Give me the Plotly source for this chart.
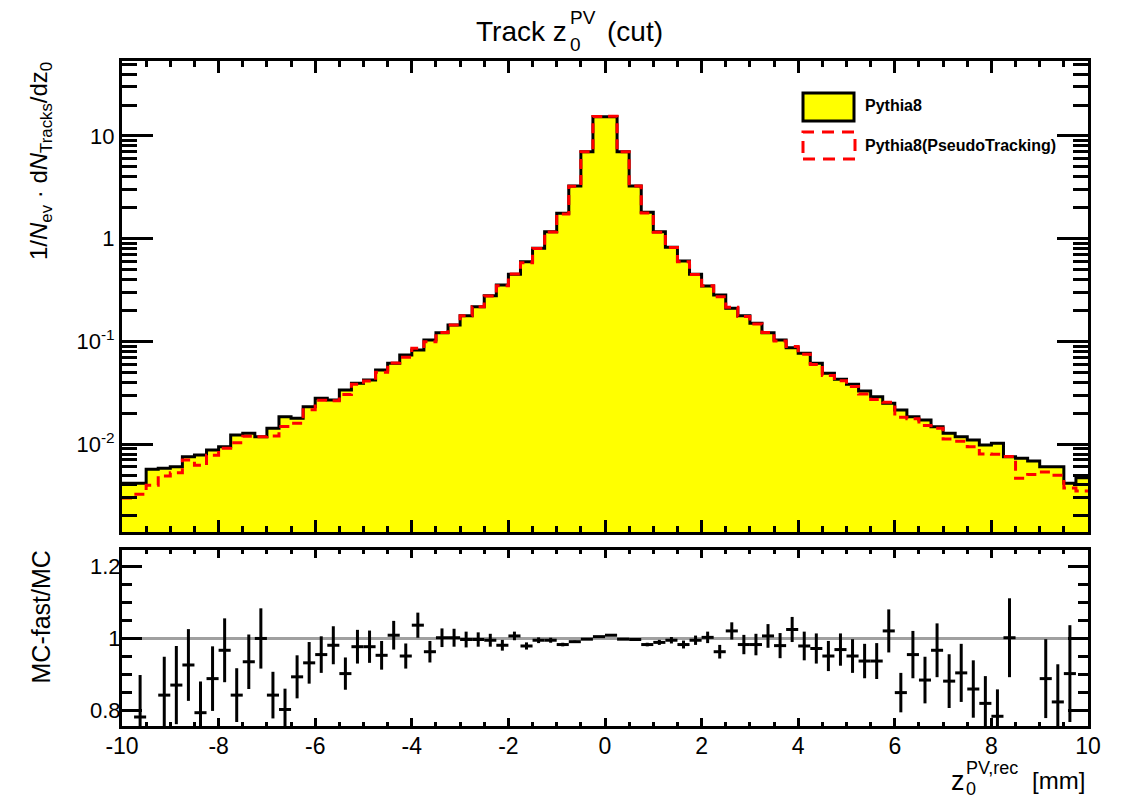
import numpy as np
import plotly.graph_objects as go

# ---- binning: 80 bins of 0.25 mm between -10 and 10 mm ----
Z_LO, Z_HI, N_BINS = -10.0, 10.0, 80

# 1/N_ev dN/dz0 for Pythia8 (full tracking), one value per bin
pythia8 = [
    0.00415, 0.00415, 0.00569, 0.00582, 0.00603, 0.00754, 0.00783, 0.00876,
    0.00943, 0.01226, 0.01274, 0.01181, 0.01425, 0.01848, 0.01783, 0.02313,
    0.02792, 0.02688, 0.03363, 0.03908, 0.04209, 0.05267, 0.06118, 0.07374,
    0.08249, 0.1032, 0.1215, 0.1444, 0.1779, 0.2177, 0.2786, 0.3540,
    0.4500, 0.5970, 0.8063, 1.170, 1.767, 3.261, 7.034, 15.41,
    15.41, 7.034, 3.261, 1.807, 1.170, 0.8249, 0.6066, 0.4500,
    0.3462, 0.2830, 0.2101, 0.1779, 0.1501, 0.1215, 0.1032, 0.08685,
    0.07660, 0.06118, 0.04891, 0.04276, 0.03822, 0.03289, 0.02893, 0.02496,
    0.02148, 0.01848, 0.01717, 0.01477, 0.01274, 0.01181, 0.01096, 0.00980,
    0.01018, 0.00754, 0.00727, 0.00685, 0.00603, 0.00603, 0.00415, 0.00471,
]

# MC-fast / MC ratio per bin and its statistical uncertainty
ratio = [
    0.72, 0.781, 0.70, 0.842, 0.870, 0.926, 0.793, 0.888,
    0.967, 0.842, 0.935, 1.000, 0.842, 0.802, 0.893, 0.932,
    0.955, 0.981, 0.902, 0.977, 0.977, 0.953, 1.009, 0.951,
    1.037, 0.963, 1.002, 1.002, 0.997, 0.997, 0.995, 0.981,
    1.007, 0.979, 0.995, 0.995, 0.983, 0.991, 0.998, 1.005,
    1.009, 0.998, 0.997, 0.983, 0.989, 0.995, 0.983, 0.995,
    1.003, 0.963, 1.021, 0.983, 0.983, 1.007, 0.980, 1.025,
    0.979, 0.972, 0.951, 0.969, 0.951, 0.937, 0.937, 1.021,
    0.849, 0.955, 0.884, 0.967, 0.881, 0.904, 0.859, 0.819,
    0.783, 1.002, 0.64, 0.74, 0.888, 0.823, 0.902, 0.74,
]
ratio_err = [
    0.120, 0.117, 0.110, 0.107, 0.109, 0.100, 0.087, 0.090,
    0.089, 0.075, 0.076, 0.084, 0.065, 0.058, 0.060, 0.058,
    0.051, 0.053, 0.045, 0.047, 0.045, 0.040, 0.040, 0.035,
    0.035, 0.030, 0.026, 0.025, 0.022, 0.020, 0.018, 0.015,
    0.012, 0.010, 0.008, 0.007, 0.005, 0.003, 0.002, 0.002,
    0.002, 0.002, 0.003, 0.005, 0.007, 0.009, 0.011, 0.013,
    0.016, 0.019, 0.024, 0.027, 0.030, 0.033, 0.035, 0.035,
    0.040, 0.042, 0.042, 0.045, 0.047, 0.048, 0.050, 0.060,
    0.055, 0.066, 0.065, 0.075, 0.075, 0.081, 0.080, 0.076,
    0.075, 0.110, 0.110, 0.110, 0.110, 0.105, 0.135, 0.120,
]

# tick labels
x_tickvals = [-10, -8, -6, -4, -2, 0, 2, 4, 6, 8, 10]
x_ticktext = ["-10", "-8", "-6", "-4", "-2", "0", "2", "4", "6", "8", "10"]
y_tickvals = [0.01, 0.1, 1, 10]
y_ticktext = ["10<sup>-2</sup>", "10<sup>-1</sup>", "1", "10"]
r_tickvals = [0.8, 1.0, 1.2]
r_ticktext = ["0.8", "1", "1.2"]

edges = np.linspace(Z_LO, Z_HI, N_BINS + 1)
centers = 0.5 * (edges[:-1] + edges[1:])
bin_w = edges[1] - edges[0]
full = np.array(pythia8)
rat = np.array(ratio)
# PseudoTracking histogram = Pythia8 x (MC-fast/MC)
pseudo = full * rat

# ---- page geometry (pixels) ----
W, H = 1121, 798
def fx(p):
    return p / W
def fy(p):
    return 1 - p / H

Y_TOP = (-2.856, 1.730)          # log10 range of the upper pad
Y_RAT = (0.7559, 1.2466)         # range of the ratio pad
FLOOR = 10 ** (Y_TOP[0] - 1)     # fill baseline below the visible range

FONT = "Liberation Sans, Arial, Helvetica, sans-serif"

fig = go.Figure()

# yellow filled histogram (as a closed step polygon)
xs = np.repeat(edges, 2)
ys = np.concatenate([[FLOOR], np.repeat(full, 2), [FLOOR]])
fig.add_trace(go.Scatter(x=xs, y=ys, mode="lines", fill="toself",
                         fillcolor="#ffff00", line=dict(width=0),
                         xaxis="x", yaxis="y", hoverinfo="skip"))
# black outline of Pythia8
fig.add_trace(go.Scatter(x=edges, y=np.append(full, full[-1]), mode="lines",
                         line=dict(color="black", width=3, shape="hv"),
                         xaxis="x", yaxis="y"))
# red dashed PseudoTracking
fig.add_trace(go.Scatter(x=edges, y=np.append(pseudo, pseudo[-1]), mode="lines",
                         line=dict(color="#ff0000", width=3, shape="hv",
                                   dash="10px,6px"),
                         xaxis="x", yaxis="y"))

# ratio points: only bins whose central value lies inside the pad
shown = (rat >= Y_RAT[0]) & (rat <= Y_RAT[1])
fig.add_trace(go.Scatter(
    x=centers[shown], y=rat[shown], mode="markers",
    marker=dict(size=1, color="black"),
    error_y=dict(type="data", array=np.array(ratio_err)[shown], color="black",
                 thickness=3, width=0),
    error_x=dict(type="constant", value=bin_w / 2, color="black",
                 thickness=3, width=0),
    xaxis="x2", yaxis="y2"))

axis_common = dict(showline=True, linecolor="black", linewidth=3,
                   mirror="ticks", ticks="inside", tickcolor="black",
                   showgrid=False, zeroline=False, automargin=False)

fig.update_layout(
    width=W, height=H, autosize=False,
    margin=dict(l=0, r=0, t=0, b=0, autoexpand=False),
    paper_bgcolor="white", plot_bgcolor="white",
    showlegend=False,
    font=dict(family=FONT, color="black"),
    xaxis=dict(domain=[fx(122), fx(1088)], range=[Z_LO, Z_HI], anchor="y",
               showticklabels=False, tickmode="array", tickvals=x_tickvals,
               ticklen=12, tickwidth=2.5,
               minor=dict(ticks="inside", dtick=0.5, tick0=0, ticklen=6,
                          tickwidth=2.5, tickcolor="black"),
               **axis_common),
    yaxis=dict(domain=[fy(532), fy(61)], type="log", range=list(Y_TOP),
               anchor="x", tickmode="array", tickvals=y_tickvals,
               ticktext=y_ticktext,
               ticklen=31, tickwidth=2.5, ticklabelstandoff=0,
               tickfont=dict(size=22, family=FONT),
               minor=dict(ticks="inside", dtick="D1", ticklen=15,
                          tickwidth=2.5, tickcolor="black"),
               **axis_common),
    xaxis2=dict(domain=[fx(122), fx(1088)], range=[Z_LO, Z_HI], anchor="y2",
                tickmode="array", tickvals=x_tickvals, ticktext=x_ticktext,
                ticklen=8, tickwidth=2.5, ticklabelstandoff=-3,
                tickfont=dict(size=23, family=FONT),
                minor=dict(ticks="inside", dtick=0.5, tick0=0, ticklen=4,
                           tickwidth=2.5, tickcolor="black"),
                **axis_common),
    yaxis2=dict(domain=[fy(726), fy(550)], range=list(Y_RAT), anchor="x2",
                tickmode="array", tickvals=r_tickvals, ticktext=r_ticktext,
                ticklen=20, tickwidth=2.5,
                ticklabelstandoff=-6, tickfont=dict(size=22, family=FONT),
                minor=dict(ticks="inside", dtick=0.05, tick0=0, ticklen=10,
                           tickwidth=2.5, tickcolor="black"),
                **axis_common),
)

# reference line at ratio = 1
fig.add_shape(type="line", xref="x2", yref="y2", x0=Z_LO, x1=Z_HI, y0=1, y1=1,
              line=dict(color="#a0a0a0", width=3), layer="below")

# legend
fig.add_shape(type="rect", xref="paper", yref="paper",
              x0=fx(803), x1=fx(854), y0=fy(121), y1=fy(93),
              fillcolor="#ffff00", line=dict(color="black", width=3))
fig.add_shape(type="rect", xref="paper", yref="paper",
              x0=fx(803), x1=fx(855), y0=fy(159), y1=fy(132),
              line=dict(color="#ff0000", width=3, dash="12px,8px"))

def label(text, x, y, size, xanchor="left", yanchor="middle", angle=0, bold=False):
    if bold:
        text = "<b>" + text + "</b>"
    fig.add_annotation(text=text, xref="paper", yref="paper", x=fx(x), y=fy(y),
                       xanchor=xanchor, yanchor=yanchor, textangle=angle,
                       showarrow=False, font=dict(size=size, family=FONT,
                                                  color="black"))

label("Pythia8", 863, 106, 16, bold=True)
label("Pythia8(PseudoTracking)", 863, 146, 16, bold=True)

# title: Track z_0^PV (cut)
label("Track z", 569, 31, 28, xanchor="right")
label("PV", 568, 18, 19)
label("0", 568, 44, 19)
label("(cut)", 605, 31, 28)

# x-axis title: z_0^{PV,rec} [mm]
label("z", 949, 781, 27)
label("PV,rec", 964, 768, 18)
label("0", 964, 789, 18)
label("[mm]", 1087, 780, 24, xanchor="right")

# y-axis titles
label("1/<i>N</i><sub>ev</sub> · d<i>N</i><sub>Tracks</sub>/dz<sub>0</sub>",
      40, 60, 24, xanchor="center", yanchor="top", angle=-90)
label("MC-fast/MC", 40, 549, 25, xanchor="center", yanchor="top", angle=-90)

fig.write_html("out.html")
